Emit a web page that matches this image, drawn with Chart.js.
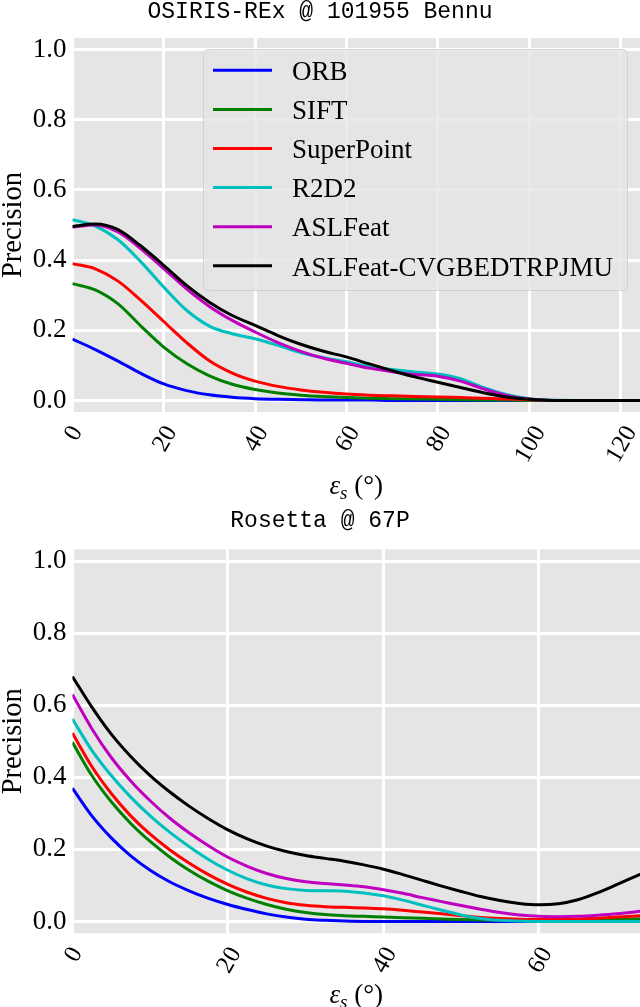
<!DOCTYPE html>
<html>
<head>
<meta charset="utf-8">
<script src="https://cdn.jsdelivr.net/npm/chart.js@4.4.1/dist/chart.umd.min.js"></script>
<style>
  html, body { margin: 0; padding: 0; background: #fff; }
  #wrap { position: relative; width: 640px; height: 1007px; }
  .panel { position: absolute; left: 0; width: 640px; }
</style>
</head>
<body>
<div id="wrap">
  <div class="panel" style="top:0;height:500px"><canvas id="bennuChart"></canvas></div>
  <div class="panel" style="top:500px;height:507px"><canvas id="rosettaChart"></canvas></div>
</div>
<script>
// methods and colours, same for both panels
const methods = ['ORB', 'SIFT', 'SuperPoint', 'R2D2', 'ASLFeat', 'ASLFeat-CVGBEDTRPJMU'];
const colors = ['#0000ff', '#008000', '#ff0000', '#00bfbf', '#bf00bf', '#000000'];

const yTicks = [0, 0.2, 0.4, 0.6, 0.8, 1.0];

// OSIRIS-REx @ 101955 Bennu  (eps_s every 5 deg)
const bennuAngles = [0, 5, 10, 15, 20, 25, 30, 35, 40, 45, 50, 55, 60, 65, 70, 75, 80, 85, 90, 95, 100, 105, 110, 115, 120, 125];
const bennuTicks = [0, 20, 40, 60, 80, 100, 120];
const bennuOrb = [0.175, 0.145, 0.112, 0.077, 0.047, 0.028, 0.016, 0.009, 0.005, 0.003, 0.002, 0.001, 0.001, 0.001, 0, 0, 0, 0, 0, 0, 0, 0, 0, 0, 0, 0];
const bennuSift = [0.333, 0.315, 0.275, 0.212, 0.152, 0.105, 0.07, 0.046, 0.031, 0.021, 0.015, 0.011, 0.008, 0.006, 0.005, 0.004, 0.003, 0.002, 0.001, 0.001, 0, 0, 0, 0, 0, 0];
const bennuSuperPoint = [0.39, 0.375, 0.34, 0.285, 0.225, 0.165, 0.113, 0.078, 0.055, 0.04, 0.03, 0.023, 0.018, 0.015, 0.013, 0.011, 0.01, 0.008, 0.006, 0.004, 0.002, 0, 0, 0, 0, 0];
const bennuR2d2 = [0.515, 0.497, 0.458, 0.395, 0.323, 0.257, 0.212, 0.19, 0.176, 0.157, 0.136, 0.122, 0.11, 0.097, 0.088, 0.081, 0.075, 0.062, 0.037, 0.017, 0.005, 0.001, 0, 0, 0, 0];
const bennuAslfeat = [0.494, 0.5, 0.48, 0.432, 0.376, 0.318, 0.268, 0.228, 0.195, 0.165, 0.14, 0.12, 0.106, 0.092, 0.082, 0.074, 0.069, 0.055, 0.033, 0.014, 0.004, 0, 0, 0, 0, 0];
const bennuAslfeatCvg = [0.496, 0.503, 0.487, 0.44, 0.385, 0.328, 0.28, 0.242, 0.214, 0.185, 0.16, 0.14, 0.124, 0.104, 0.085, 0.067, 0.052, 0.037, 0.022, 0.01, 0.003, 0, 0, 0, 0, 0];

// Rosetta @ 67P  (eps_s every 2.5 deg)
const rosettaAngles = [0, 2.5, 5, 7.5, 10, 12.5, 15, 17.5, 20, 22.5, 25, 27.5, 30, 32.5, 35, 37.5, 40, 42.5, 45, 47.5, 50, 52.5, 55, 57.5, 60, 62.5, 65, 67.5, 70, 72.5, 75];
const rosettaTicks = [0, 20, 40, 60];
const rosettaOrb = [0.37, 0.293, 0.232, 0.182, 0.142, 0.11, 0.085, 0.064, 0.047, 0.033, 0.021, 0.012, 0.006, 0.003, 0.001, 0, 0, 0, 0, 0, 0, 0, 0, 0, 0, 0, 0, 0, 0, 0, 0];
const rosettaSift = [0.497, 0.405, 0.332, 0.272, 0.222, 0.179, 0.142, 0.111, 0.085, 0.064, 0.047, 0.034, 0.025, 0.019, 0.016, 0.014, 0.012, 0.01, 0.009, 0.007, 0.005, 0.004, 0.003, 0.003, 0.003, 0.003, 0.004, 0.005, 0.006, 0.007, 0.008];
const rosettaSuperPoint = [0.523, 0.43, 0.355, 0.293, 0.242, 0.199, 0.162, 0.13, 0.103, 0.081, 0.064, 0.052, 0.045, 0.041, 0.039, 0.037, 0.035, 0.031, 0.026, 0.021, 0.016, 0.011, 0.008, 0.006, 0.005, 0.005, 0.007, 0.009, 0.012, 0.015, 0.017];
const rosettaR2d2 = [0.562, 0.475, 0.405, 0.345, 0.293, 0.248, 0.208, 0.172, 0.142, 0.118, 0.101, 0.091, 0.086, 0.085, 0.084, 0.079, 0.071, 0.059, 0.045, 0.031, 0.018, 0.008, 0.003, 0.001, 0, 0, 0, 0, 0, 0, 0];
const rosettaAslfeat = [0.63, 0.535, 0.455, 0.39, 0.335, 0.287, 0.246, 0.21, 0.178, 0.153, 0.133, 0.119, 0.11, 0.105, 0.101, 0.096, 0.088, 0.078, 0.066, 0.055, 0.044, 0.034, 0.025, 0.018, 0.014, 0.013, 0.014, 0.017, 0.021, 0.027, 0.034];
const rosettaAslfeatCvg = [0.68, 0.595, 0.52, 0.458, 0.405, 0.36, 0.32, 0.285, 0.254, 0.229, 0.209, 0.194, 0.183, 0.175, 0.167, 0.157, 0.145, 0.13, 0.114, 0.098, 0.083, 0.069, 0.058, 0.05, 0.046, 0.049, 0.06, 0.079, 0.102, 0.126, 0.15];

const SERIF = "'Liberation Serif', 'Times New Roman', serif";

// grey ggplot-style panel
const plotBackground = {
  id: 'plotBackground',
  beforeDraw(chart) {
    const a = chart.chartArea;
    chart.ctx.save();
    chart.ctx.fillStyle = '#e5e5e5';
    chart.ctx.fillRect(a.left, a.top, a.right - a.left, a.bottom - a.top);
    chart.ctx.restore();
  }
};

// rotated x tick labels (centred like matplotlib) and the eps_s axis label
const axisText = {
  id: 'axisText',
  afterDraw(chart, args, opts) {
    const ctx = chart.ctx;
    const a = chart.chartArea;
    const xs = chart.scales.x;
    const rot = Math.PI / 3;
    const fs = 25;
    ctx.save();
    ctx.fillStyle = '#000';
    ctx.font = fs + 'px ' + SERIF;
    xs.ticks.forEach(t => {
      const txt = String(t.value);
      const w = ctx.measureText(txt).width;
      const h = 0.676 * fs;
      const cx = xs.getPixelForValue(t.value);
      const cy = a.bottom + opts.tickGap + (w * Math.sin(rot) + h * Math.cos(rot)) / 2;
      ctx.save();
      ctx.translate(cx, cy);
      ctx.rotate(-rot);
      ctx.textAlign = 'center';
      ctx.textBaseline = 'alphabetic';
      ctx.fillText(txt, 0, h / 2);
      ctx.restore();
    });

    // axis title: eps_s (deg)
    const big = 27, small = 19;
    const fEps = 'italic ' + big + 'px ' + SERIF;
    const fSub = 'italic ' + small + 'px ' + SERIF;
    const fRest = big + 'px ' + SERIF;
    ctx.font = fEps; const wE = ctx.measureText('\u03b5').width;
    ctx.font = fSub; const wS = ctx.measureText('s').width;
    ctx.font = fRest; const wR = ctx.measureText(' (\u00b0)').width;
    let x = (a.left + a.right) / 2 - (wE + wS + wR) / 2;
    const base = a.bottom + opts.titleGap;
    ctx.textAlign = 'left';
    ctx.textBaseline = 'alphabetic';
    ctx.font = fEps; ctx.fillText('\u03b5', x, base); x += wE;
    ctx.font = fSub; ctx.fillText('s', x, base + 5); x += wS;
    ctx.font = fRest; ctx.fillText(' (\u00b0)', x, base);
    ctx.restore();
  }
};

// matplotlib-like framed legend inside the top panel
const legendBox = {
  id: 'legendBox',
  afterDatasetsDraw(chart) {
    const ctx = chart.ctx;
    ctx.save();
    ctx.beginPath();
    ctx.roundRect(203.5, 49.5, 424, 241, 5);
    ctx.fillStyle = 'rgba(229,229,229,0.8)';
    ctx.fill();
    ctx.strokeStyle = 'rgba(204,204,204,0.8)';
    ctx.lineWidth = 1;
    ctx.stroke();
    ctx.font = '27px ' + SERIF;
    ctx.textAlign = 'left';
    ctx.textBaseline = 'alphabetic';
    chart.data.datasets.forEach((ds, i) => {
      const y = 70.3 + i * 39.1;
      ctx.strokeStyle = ds.borderColor;
      ctx.lineWidth = 3;
      ctx.beginPath();
      ctx.moveTo(213, y);
      ctx.lineTo(272, y);
      ctx.stroke();
      ctx.fillStyle = '#000';
      ctx.fillText(ds.label, 292, y + 9.7);
    });
    ctx.restore();
  }
};

function makeChart(id, title, angles, series, xMax, xTicks, lay, withLegend) {
  const ctx = document.getElementById(id).getContext('2d');
  return new Chart(ctx, {
    type: 'line',
    data: {
      datasets: methods.map((m, i) => ({
        label: m,
        data: angles.map((a, k) => ({ x: a, y: series[i][k] })),
        borderColor: colors[i],
        backgroundColor: colors[i],
        borderWidth: 3,
        pointRadius: 0,
        cubicInterpolationMode: 'monotone',
        fill: false,
        order: methods.length - i
      }))
    },
    options: {
      responsive: true,
      maintainAspectRatio: false,
      animation: false,
      layout: { padding: 0 },
      plugins: {
        legend: { display: false },
        tooltip: { enabled: false },
        title: {
          display: true,
          text: title,
          color: '#000',
          font: { family: "'Liberation Mono', 'DejaVu Sans Mono', monospace", size: 23, weight: 'normal', lineHeight: '24px' },
          padding: lay.titlePadding
        },
        axisText: { tickGap: lay.tickGap, titleGap: lay.titleGap }
      },
      scales: {
        x: {
          type: 'linear',
          min: 0,
          max: xMax,
          afterBuildTicks: s => { s.ticks = xTicks.map(v => ({ value: v })); },
          afterFit: s => { s.height = lay.xAxisHeight; },
          ticks: { display: false },
          grid: { color: '#ffffff', lineWidth: 3, drawTicks: false },
          border: { display: false }
        },
        y: {
          min: -0.033,
          max: 1.033,
          afterBuildTicks: s => { s.ticks = yTicks.map(v => ({ value: v })); },
          afterFit: s => { s.width = 72.4; },
          ticks: {
            color: '#000',
            padding: 6,
            font: { family: SERIF, size: 27 },
            callback: v => Number(v).toFixed(1)
          },
          grid: { color: '#ffffff', lineWidth: 3, drawTicks: false },
          border: { display: false },
          title: {
            display: true,
            text: 'Precision',
            color: '#000',
            font: { family: SERIF, size: 28.5, lineHeight: '27px' },
            padding: 0
          }
        }
      }
    },
    plugins: [plotBackground, axisText].concat(withLegend ? [legendBox] : [])
  });
}

makeChart('bennuChart', 'OSIRIS-REx @ 101955 Bennu', bennuAngles,
  [bennuOrb, bennuSift, bennuSuperPoint, bennuR2d2, bennuAslfeat, bennuAslfeatCvg],
  124.3, bennuTicks,
  { titlePadding: { top: 0, bottom: 14 }, xAxisHeight: 88, tickGap: 11, titleGap: 82 }, true);

makeChart('rosettaChart', 'Rosetta @ 67P', rosettaAngles,
  [rosettaOrb, rosettaSift, rosettaSuperPoint, rosettaR2d2, rosettaAslfeat, rosettaAslfeatCvg],
  73, rosettaTicks,
  { titlePadding: { top: 9, bottom: 16.3 }, xAxisHeight: 73.7, tickGap: 11, titleGap: 70 }, false);
</script>
</body>
</html>
